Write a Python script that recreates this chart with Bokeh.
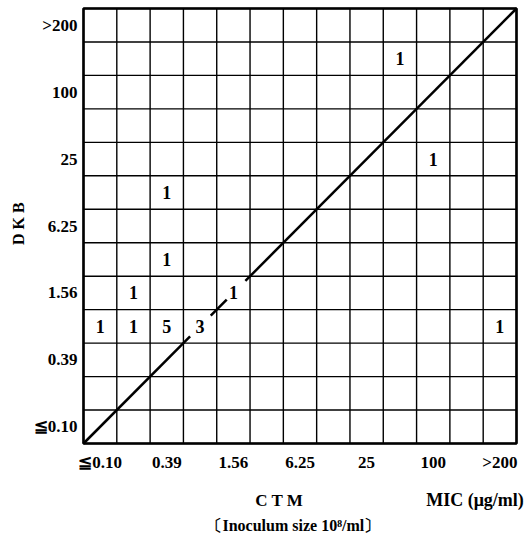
from bokeh.plotting import figure
from bokeh.models import Range1d, ColumnDataSource
from bokeh.core.properties import value
from bokeh.embed import file_html
from bokeh.resources import INLINE

# MIC classes (same scale on both axes)
mic_labels = ["≦0.10", "0.39", "1.56", "6.25", "25", "100", ">200"]
n_cells = 13
label_pos = [0.5, 2.5, 4.5, 6.5, 8.5, 10.5, 12.5]

# number of strains per cell (CTM column index, DKB row index)
cell_x = [0, 1, 2, 3, 12, 1, 4, 2, 2, 9, 10]
cell_y = [3, 3, 3, 3, 3, 4, 4, 5, 7, 11, 8]
counts = ["1", "1", "5", "3", "1", "1", "1", "1", "1", "1", "1"]

# diagonal (line of equality), broken around the labels on it
diag_parts = [(0, 3.2), (3.82, 4.3), (4.86, 13)]

FONT = "Liberation Serif"
W, H = 532, 533
# pixel geometry of the grid (layout only)
GX0, GY0, CW, CH = 83.0, 443.0, 433.0 / 13, 435.0 / 13

p = figure(width=W, height=H,
           x_range=Range1d(-GX0 / CW, (W - GX0) / CW),
           y_range=Range1d((GY0 - H) / CH, GY0 / CH),
           output_backend="svg", toolbar_location=None,
           min_border=0, min_border_left=0, min_border_right=0,
           min_border_top=0, min_border_bottom=0)
p.xaxis.visible = False
p.yaxis.visible = False
p.grid.visible = False
p.outline_line_color = None
p.background_fill_color = "white"
p.border_fill_color = "white"

# grid lines
ticks = list(range(n_cells + 1))
p.segment(x0=ticks, y0=[0] * len(ticks), x1=ticks, y1=[n_cells] * len(ticks),
          line_color="black", line_width=1.4)
p.segment(x0=[0] * len(ticks), y0=ticks, x1=[n_cells] * len(ticks), y1=ticks,
          line_color="black", line_width=1.4)
# frame
p.quad(left=[0], right=[n_cells], bottom=[0], top=[n_cells],
       fill_color=None, line_color="black", line_width=2.6)

# diagonal
p.segment(x0=[a for a, b in diag_parts], y0=[a for a, b in diag_parts],
          x1=[b for a, b in diag_parts], y1=[b for a, b in diag_parts],
          line_color="black", line_width=2.5)

# counts
src = ColumnDataSource(dict(x=[c + 0.5 for c in cell_x], y=[r + 0.5 for r in cell_y], t=counts))
p.text(x="x", y="y", text="t", source=src, text_align="center", text_baseline="middle",
       text_font=value(FONT), text_font_size="18px", text_font_style="bold", text_color="black")

# tick labels
p.text(x=label_pos, y=[-0.57] * len(label_pos), text=mic_labels,
       text_align="center", text_baseline="middle",
       text_font=value(FONT), text_font_size="17px", text_font_style="bold", text_color="black")
p.text(x=[-0.18] * len(label_pos), y=label_pos, text=mic_labels,
       text_align="right", text_baseline="middle",
       text_font=value(FONT), text_font_size="17px", text_font_style="bold", text_color="black")

def lab(x, y, text, align="center", angle=0.0, size="16px", style="bold"):
    p.text(x=[x], y=[y], text=[text], text_align=align, text_baseline="middle", angle=angle,
           text_font=value(FONT), text_font_size=size, text_font_style=style, text_color="black")

lab(-1.95, 6.57, "D K B", angle=1.5707963, size="16px")
lab(5.88, -1.70, "C T M", size="17px", style="bold")
lab(13.22, -1.70, "MIC (μg/ml)", align="right", size="18px")
lab(6.30, -2.46, "〔Inoculum size 10⁸/ml〕", size="16px")

open("out.html", "w").write(file_html(p, INLINE))
